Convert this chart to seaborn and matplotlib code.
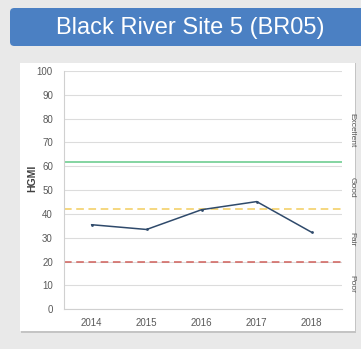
# -*- coding: UTF-8 -*-
import matplotlib
matplotlib.use("Agg")
import matplotlib.pyplot as plt
from matplotlib.patches import FancyBboxPatch, Rectangle
import pandas as pd
import seaborn as sns

# data
years = ["2014", "2015", "2016", "2017", "2018"]
hgmi = [35.5, 33.5, 41.8, 45.2, 32.3]
title = "Black River Site 5 (BR05)"

thresholds = [62, 42, 20]
threshold_colors = ["#63c987", "#f2cd5c", "#d0605a"]
threshold_styles = ["-", "--", "--"]

ratings = ["Excellent", "Good", "Fair", "Poor"]
rating_pos = [75, 51, 29.5, 10.5]

df = pd.DataFrame({"Year": years, "HGMI": hgmi})

sns.set_style("white")
plt.rcParams['font.family'] = ['Liberation Sans', 'DejaVu Sans']

fig = plt.figure(figsize=(3.61, 3.49), dpi=100)
fig.patch.set_facecolor("#e9e9e9")

W, H = 361.0, 349.0
# header band
fig.patches.append(FancyBboxPatch((10 / W, 1 - 46 / H), 360 / W, 38 / H,
                                  boxstyle="round,pad=0,rounding_size=0.012",
                                  transform=fig.transFigure, facecolor="#4b80c3",
                                  edgecolor="none", zorder=-2))
fig.text(190 / W, 1 - 28 / H, title, ha="center", va="center", color="white",
         fontsize=17)
# card shadow + card
fig.patches.append(Rectangle((21 / W, 1 - 333 / H), 335 / W, 270 / H,
                             transform=fig.transFigure, facecolor="#c4c4c4",
                             edgecolor="none", zorder=-2))
fig.patches.append(Rectangle((20 / W, 1 - 331 / H), 335 / W, 268 / H,
                             transform=fig.transFigure, facecolor="white",
                             edgecolor="none", zorder=-1))

ax = fig.add_axes([64 / W, 1 - 309.3 / H, 278 / W, 238.3 / H])
ax.set_zorder(1)
ax.set_facecolor("none")

for v, c, ls in zip(thresholds, threshold_colors, threshold_styles):
    if ls == "--":
        ax.axhline(v, color=c, linestyle=ls, linewidth=1.1, dashes=(5, 3), zorder=2)
    else:
        ax.axhline(v, color=c, linestyle=ls, linewidth=1.1, zorder=2)

sns.lineplot(data=df, x="Year", y="HGMI", ax=ax, color="#2f4a6b", linewidth=1.1,
             marker="o", markersize=2, markeredgewidth=0, zorder=3)

ax.set_ylim(0, 100)
ax.set_xlim(-0.5, 4.55)
ax.set_yticks(range(0, 101, 10))
ax.yaxis.grid(True, color="#dcdcdc", linewidth=0.8)
ax.set_axisbelow(True)
for s in ["top", "right"]:
    ax.spines[s].set_visible(False)
for s in ["left", "bottom"]:
    ax.spines[s].set_color("#d0d0d0")
    ax.spines[s].set_linewidth(0.8)
ax.tick_params(axis="both", length=0, labelsize=7, labelcolor="#595959")
ax.tick_params(axis="y", pad=8)
ax.tick_params(axis="x", pad=6)
ax.set_xlabel("")
ax.set_ylabel("HGMI", fontsize=7.5, fontweight="bold", color="#404040")
ax.yaxis.set_label_coords(-27 / 278, 0.55)

for r, p in zip(ratings, rating_pos):
    ax.text(1.035, p, r, transform=ax.get_yaxis_transform(), rotation=-90,
            ha="center", va="center", fontsize=6, color="#595959")

fig.savefig("out.png", dpi=100, facecolor=fig.get_facecolor())
